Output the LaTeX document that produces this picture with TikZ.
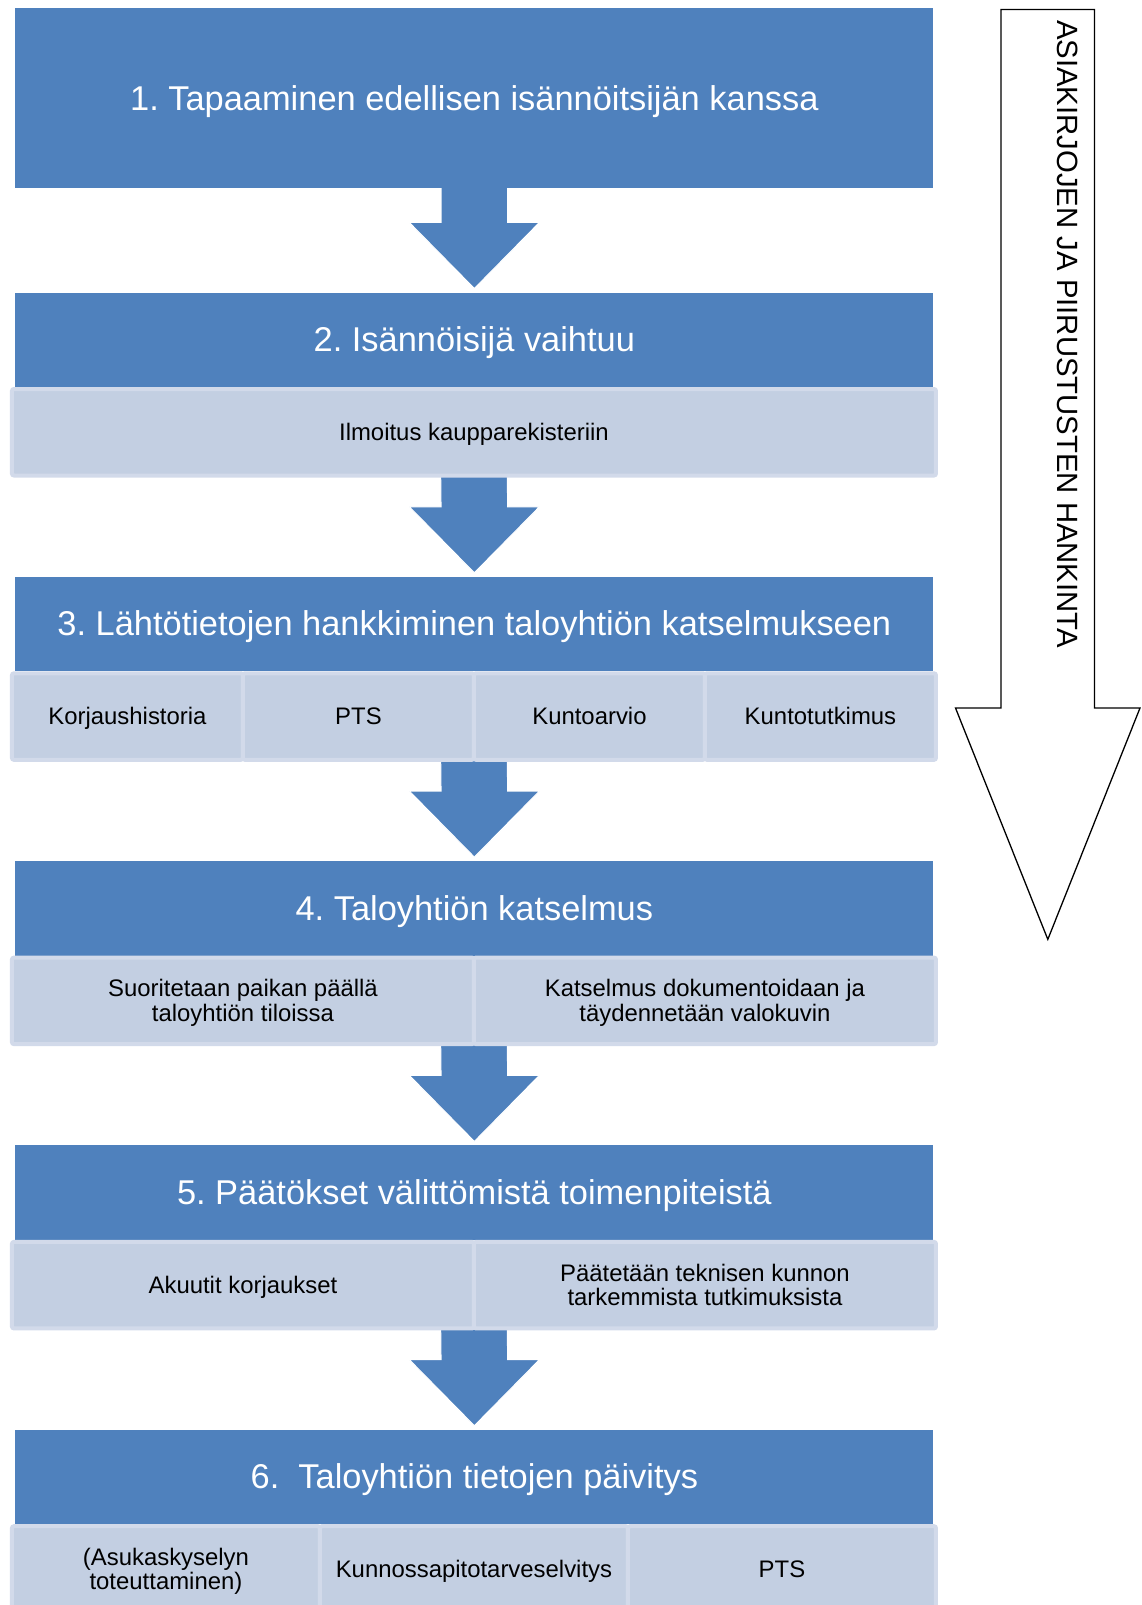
\documentclass[tikz,border=0pt]{standalone}
\usepackage{fontspec}
\setmainfont{Liberation Sans}
\usetikzlibrary{positioning,calc}
\frenchspacing

\definecolor{stepblue}{RGB}{79,129,189}
\definecolor{subfill}{RGB}{195,207,226}
\definecolor{subrim}{RGB}{210,218,234}

\pgfdeclarelayer{back}
\pgfsetlayers{back,main}

% block arrow from one box down to the next one
\newcommand\flowarrow[2]{%
  \fill[stepblue, draw=white, line width=1pt]
    ($(#1)+(-33.3,-4)$) -- ($(#2)+(-33.3,-70)$) -- ($(#2)+(-65,-70)$)
    -- ($(#2)+(0,-4)$) -- ($(#2)+(65,-70)$) -- ($(#2)+(33.3,-70)$)
    -- ($(#1)+(33.3,-4)$) -- cycle;}

\begin{document}
\begin{tikzpicture}
  [x=1pt, y=-1pt,
    stepbox/.style={fill=stepblue, text=white, minimum width=918pt, minimum height=94.5pt,
      inner sep=0pt, outer sep=0pt, text height=31.1pt, text depth=7.3pt,
      font=\fontsize{34.4}{41}\selectfont},
    subcell/.style={fill=subfill, draw=subrim, line width=4pt, rounded corners=2pt,
      minimum height=86.5pt, inner sep=0pt, outer sep=0pt, align=center,
      text height=21.6pt, text depth=5.1pt, font=\fontsize{23.9}{24.5}\selectfont},
    twoline/.style={text height=46.1pt},
    sidearrow/.style={draw=black, line width=1.3pt, fill=white},
]
  \useasboundingbox (0,0) rectangle (1141,1605);
  \clip (0,0) rectangle (1141,1605);

  % main steps
  \node[stepbox, minimum height=180.1pt] (b1) at (474.35,98.25) {1. Tapaaminen edellisen isännöitsijän kanssa};
  \node[stepbox] (b2) at (474.35,339.75) {2. Isännöisijä vaihtuu};
  \node[stepbox] (b3) at (474.35,624.05) {3. Lähtötietojen hankkiminen taloyhtiön katselmukseen};
  \node[stepbox] (b4) at (474.35,908.35) {4. Taloyhtiön katselmus};
  \node[stepbox] (b5) at (474.35,1192.65) {5. Päätökset välittömistä toimenpiteistä};
  \node[stepbox] (b6) at (474.35,1476.95) {6.\ \ Taloyhtiön tietojen päivitys};

  % sub steps
  \node[subcell, minimum width=924pt, anchor=north west] (c21) at ($(b2.south west)+(-3.4,2)$) {Ilmoitus kaupparekisteriin};

  \node[subcell, minimum width=231pt, anchor=north west] (c31) at ($(b3.south west)+(-3.4,2)$) {Korjaushistoria};
  \node[subcell, minimum width=231pt, right=0pt of c31] (c32) {PTS};
  \node[subcell, minimum width=231pt, right=0pt of c32] (c33) {Kuntoarvio};
  \node[subcell, minimum width=231pt, right=0pt of c33] (c34) {Kuntotutkimus};

  \node[subcell, twoline, minimum width=462pt, anchor=north west] (c41) at ($(b4.south west)+(-3.4,2)$) {Suoritetaan paikan päällä\\taloyhtiön tiloissa};
  \node[subcell, twoline, minimum width=462pt, right=0pt of c41] (c42) {Katselmus dokumentoidaan ja\\täydennetään valokuvin};

  \node[subcell, minimum width=462pt, anchor=north west] (c51) at ($(b5.south west)+(-3.4,2)$) {Akuutit korjaukset};
  \node[subcell, twoline, minimum width=462pt, right=0pt of c51] (c52) {Päätetään teknisen kunnon\\tarkemmista tutkimuksista};

  \node[subcell, twoline, minimum width=308pt, anchor=north west] (c61) at ($(b6.south west)+(-3.4,2)$) {(Asukaskyselyn\\toteuttaminen)};
  \node[subcell, minimum width=308pt, right=0pt of c61] (c62) {Kunnossapitotarveselvitys};
  \node[subcell, minimum width=308pt, right=0pt of c62] (c63) {PTS};

  % arrows between the steps
  \begin{pgfonlayer}{back}
    \flowarrow{b1.south}{b2.north}
    \flowarrow{c21.south}{b3.north}
    \flowarrow{c32.south east}{b4.north}
    \flowarrow{c41.south east}{b5.north}
    \flowarrow{c51.south east}{b6.north}
  \end{pgfonlayer}

  % side arrow
  \draw[sidearrow] (1001,9.5) -- (1094.5,9.5) -- (1094.5,708) -- (1140,708)
    -- (1047.8,939.4) -- (955.5,708) -- (1001,708) -- cycle;
  \node[rotate=-90, anchor=west, inner sep=0pt, font=\fontsize{29.3}{35}\selectfont] (side) at (1068,20)
    {ASIAKIRJOJEN JA PIIRUSTUSTEN HANKINTA};
\end{tikzpicture}
\end{document}
